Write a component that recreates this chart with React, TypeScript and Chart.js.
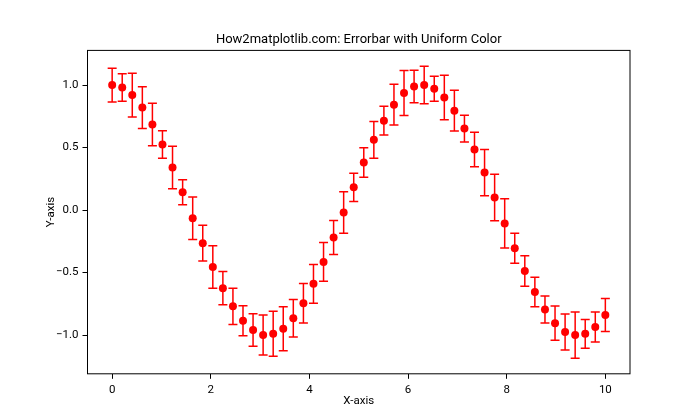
import React, { useEffect, useRef } from 'react';
import { Chart, registerables } from 'chart.js';

Chart.register(...registerables);

const TITLE = 'How2matplotlib.com: Errorbar with Uniform Color';
const X_LABEL = 'X-axis';
const Y_LABEL = 'Y-axis';

const xValues = [
  0, 0.204, 0.408, 0.612, 0.816, 1.02, 1.224, 1.429, 1.633, 1.837,
  2.041, 2.245, 2.449, 2.653, 2.857, 3.061, 3.265, 3.469, 3.673, 3.878,
  4.082, 4.286, 4.49, 4.694, 4.898, 5.102, 5.306, 5.51, 5.714, 5.918,
  6.122, 6.327, 6.531, 6.735, 6.939, 7.143, 7.347, 7.551, 7.755, 7.959,
  8.163, 8.367, 8.571, 8.776, 8.98, 9.184, 9.388, 9.592, 9.796, 10,
];

const yValues = [
  1.0, 0.98, 0.92, 0.82, 0.685, 0.525, 0.34, 0.143, -0.065, -0.265,
  -0.455, -0.625, -0.77, -0.885, -0.96, -1.0, -0.99, -0.95, -0.865, -0.745,
  -0.59, -0.415, -0.22, -0.02, 0.182, 0.38, 0.562, 0.715, 0.843, 0.937,
  0.988, 1.0, 0.97, 0.9, 0.795, 0.652, 0.485, 0.3, 0.1, -0.107,
  -0.305, -0.488, -0.655, -0.795, -0.905, -0.975, -1.0, -0.99, -0.935, -0.84,
];

const yErrors = [
  0.135, 0.11, 0.175, 0.167, 0.17, 0.11, 0.17, 0.1, 0.17, 0.143,
  0.17, 0.133, 0.145, 0.12, 0.13, 0.16, 0.18, 0.176, 0.15, 0.158,
  0.155, 0.155, 0.136, 0.166, 0.113, 0.118, 0.147, 0.115, 0.163, 0.18,
  0.13, 0.15, 0.1, 0.178, 0.163, 0.107, 0.138, 0.185, 0.186, 0.197,
  0.12, 0.122, 0.118, 0.108, 0.137, 0.144, 0.185, 0.115, 0.12, 0.132,
];

const xTicks = [0, 2, 4, 6, 8, 10];
const yTicks = [-1.0, -0.5, 0.0, 0.5, 1.0];
const xLimits = [-0.5, 10.5];
const yLimits = [-1.31, 1.277];

const FONT = 'Roboto, "DejaVu Sans", sans-serif';

const fmtNum = (v: number, digits: number) => {
  const s = Math.abs(v).toFixed(digits);
  return v < 0 ? '\u2212' + s : s;
};

export default function App() {
  const ref = useRef<HTMLCanvasElement>(null);

  useEffect(() => {
    const canvas = ref.current;
    if (!canvas) return;

    const errorBars = {
      id: 'errorBars',
      beforeDatasetsDraw(chart: any) {
        const { ctx, scales } = chart;
        const xs = scales.x;
        const ys = scales.y;
        ctx.save();
        ctx.strokeStyle = '#ff0000';
        ctx.lineCap = 'butt';
        ctx.lineWidth = 1.5;
        for (let i = 0; i < xValues.length; i++) {
          const px = xs.getPixelForValue(xValues[i]);
          const top = ys.getPixelForValue(yValues[i] + yErrors[i]);
          const bot = ys.getPixelForValue(yValues[i] - yErrors[i]);
          ctx.beginPath();
          ctx.moveTo(px, top);
          ctx.lineTo(px, bot);
          ctx.moveTo(px - 4.5, top);
          ctx.lineTo(px + 4.5, top);
          ctx.moveTo(px - 4.5, bot);
          ctx.lineTo(px + 4.5, bot);
          ctx.stroke();
        }
        ctx.restore();
      },
    };

    const frame = {
      id: 'frame',
      afterDraw(chart: any) {
        const { ctx, chartArea } = chart;
        ctx.save();
        ctx.strokeStyle = '#000';
        ctx.lineWidth = 1;
        ctx.strokeRect(chartArea.left, chartArea.top, chartArea.right - chartArea.left, chartArea.bottom - chartArea.top);
        ctx.restore();
      },
    };

    const chart = new Chart(canvas, {
      type: 'scatter',
      data: {
        datasets: [
          {
            data: xValues.map((x, i) => ({ x, y: yValues[i] })),
            backgroundColor: '#ff0000',
            borderColor: '#ff0000',
            borderWidth: 0,
            pointRadius: 4,
            pointHoverRadius: 4,
          },
        ],
      },
      options: {
        responsive: false,
        animation: false,
        devicePixelRatio: 1,
        events: [],
        layout: { padding: { left: 0, right: 70, top: 0, bottom: 0 } },
        plugins: {
          legend: { display: false },
          tooltip: { enabled: false },
          title: {
            display: true,
            fullSize: false,
            text: TITLE,
            color: '#000',
            font: { family: FONT, size: 13, weight: 'normal' },
            padding: { top: 32.2, bottom: 2.6 },
          },
        },
        scales: {
          x: {
            type: 'linear',
            min: xLimits[0],
            max: xLimits[1],
            afterBuildTicks: (s: any) => {
              s.ticks = xTicks.map((v) => ({ value: v }));
            },
            afterFit: (s: any) => {
              s.height = 46.2;
            },
            border: { display: false },
            grid: { drawOnChartArea: false, drawTicks: true, tickLength: 5, color: '#000', lineWidth: 1 },
            ticks: {
              color: '#000',
              font: { family: FONT, size: 11.5 },
              padding: 4,
              maxRotation: 0,
              autoSkip: false,
              callback: (v: any) => fmtNum(Number(v), 0),
            },
            title: {
              display: true,
              text: X_LABEL,
              color: '#000',
              font: { family: FONT, size: 11.5 },
              padding: { top: 12, bottom: 12 },
            },
          },
          y: {
            type: 'linear',
            min: yLimits[0],
            max: yLimits[1],
            afterBuildTicks: (s: any) => {
              s.ticks = yTicks.map((v) => ({ value: v }));
            },
            afterFit: (s: any) => {
              s.width = 87.5;
            },
            border: { display: false },
            grid: { drawOnChartArea: false, drawTicks: true, tickLength: 5, color: '#000', lineWidth: 1 },
            ticks: {
              color: '#000',
              font: { family: FONT, size: 11.5 },
              padding: 4,
              autoSkip: false,
              callback: (v: any) => fmtNum(Number(v), 1),
            },
            title: {
              display: true,
              text: Y_LABEL,
              color: '#000',
              font: { family: FONT, size: 11.5 },
              padding: { top: 44, bottom: 44 },
            },
          },
        },
      },
      plugins: [errorBars, frame],
    } as any);

    return () => chart.destroy();
  }, []);

  return (
    <div style={{ position: 'absolute', left: 0, top: 0, width: 700, height: 420, background: '#fff' }}>
      <canvas ref={ref} width={700} height={420} style={{ display: 'block' }} />
    </div>
  );
}
